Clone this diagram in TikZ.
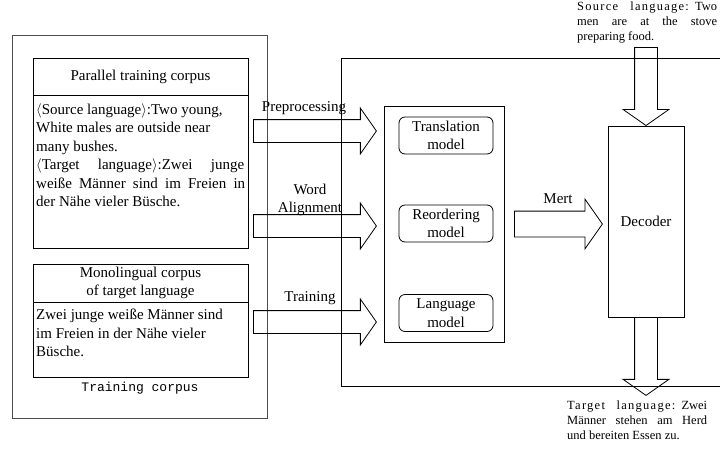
\documentclass[tikz,border=0pt]{standalone}
\usepackage{fontspec}
\setmainfont{Liberation Serif}
\setmonofont{Liberation Mono}
\newfontfamily\notefont[LetterSpace=10]{Liberation Serif}
\usetikzlibrary{positioning,shapes.arrows}

\begin{document}
\begin{tikzpicture}[x=1pt, y=-1pt,
  font=\fontsize{15}{18.5}\selectfont,
  box/.style={draw, line width=0.8pt, inner sep=0pt, outer sep=0pt},
  head/.style={box, align=center, minimum width=215pt},
  txt/.style={align=left, inner sep=2pt},
  model/.style={draw, line width=0.8pt, rounded corners=6pt, align=center, minimum width=94pt, minimum height=37pt, inner sep=1pt},
  barrow/.style={draw, line width=0.8pt, single arrow, single arrow head extend=11.5pt, single arrow tip angle=110, inner sep=11pt},
  note/.style={font=\fontsize{12.5}{15}\selectfont, text width=140pt, align=justify, inner sep=0pt}]
\useasboundingbox (0,0) rectangle (720,451);
% training corpus
\node[box, draw=black!70, minimum width=255pt, minimum height=383pt] (train) at (139.5,226.5) {};
\node[font=\ttfamily\fontsize{13}{15}\selectfont] (trainlbl) at (140,388) {Training corpus};
\node[head, minimum height=37pt] (partitle) at (140.5,76.5) {Parallel training corpus};
\node[box, minimum width=215pt, minimum height=153pt, below=0pt of partitle] (parbody) {};
\node[txt, below right=6pt and 1pt of parbody.north west] (partext) {$\langle$Source language$\rangle$:Two young,\\White males are outside near\\many bushes.\\\makebox[208pt][s]{$\langle$Target language$\rangle$:Zwei junge}\\\makebox[209pt][s]{weiße Männer sind im Freien in}\\der Nähe vieler Büsche.};
\node[head, minimum height=38pt] (montitle) at (140.5,283) {Monolingual corpus\\of target language};
\node[box, minimum width=215pt, minimum height=75pt, below=0pt of montitle] (monbody) {};
\node[txt, below right=5pt and 1pt of monbody.north west] (montext) {Zwei junge weiße Männer sind\\im Freien in der Nähe vieler\\Büsche.};
% decoding frame
\draw[line width=0.8pt] (720,58) -- (341,58) -- (341,386) -- (720,386);
% models
\node[box, minimum width=120pt, minimum height=236pt] (models) at (444,224) {};
\node[model] (trans) at (446,135.5) {Translation\\model};
\node[model] (reord) at (446,223.5) {Reordering\\model};
\node[model] (lang) at (446,313) {Language\\model};
\node[barrow, minimum height=123pt, anchor=tail] (pre) at (253,131) {};
\node[barrow, minimum height=123pt, anchor=tail] (walign) at (253,226) {};
\node[barrow, minimum height=123pt, anchor=tail] (trn) at (253,322) {};
\node (prelbl) at (304,108) {Preprocessing};
\node[align=center] (walignlbl) at (310,200) {Word\\Alignment};
\node (trnlbl) at (310,298) {Training};
% decoder
\node[box, minimum width=76pt, minimum height=191pt] (dec) at (646,221.5) {Decoder};
\node[barrow, minimum height=88pt, inner sep=12.5pt, single arrow head extend=12pt, anchor=tail] (mert) at (514,224) {};
\node (mertlbl) at (558,199) {Mert};
\node[barrow, minimum height=78pt, shape border rotate=270, anchor=tip] (srcin) at (dec.north) {};
\node[barrow, minimum height=78pt, shape border rotate=270, anchor=tail] (tgtout) at (dec.south) {};
\node[note, anchor=north west] (srcnote) at (577,2) {{\notefont Source language:}\enspace Two\linebreak men are at the stove\linebreak preparing food.};
\node[note, anchor=north west] (tgtnote) at (567,401) {{\notefont Target language:}\enspace Zwei\linebreak Männer stehen am Herd\linebreak und bereiten Essen zu.};
\end{tikzpicture}
\end{document}
